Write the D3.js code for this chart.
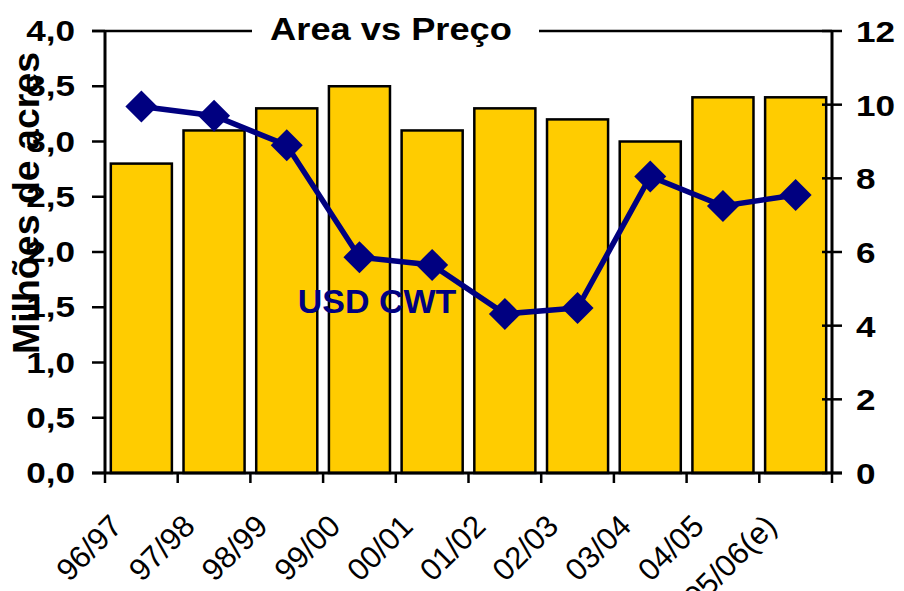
<!DOCTYPE html>
<html>
<head>
<meta charset="utf-8">
<script src="https://cdn.jsdelivr.net/npm/d3@7"></script>
<style>
  body { margin: 0; background: #fff; }
  svg text { font-family: "Liberation Sans", Arial, sans-serif; }
</style>
</head>
<body>
<div id="chart"></div>
<script>
// safra (season) labels, area in millions of acres, price in USD/CWT
let seasons = ["96/97", "97/98", "98/99", "99/00", "00/01", "01/02", "02/03", "03/04", "04/05", "05/06(e)"];
let area = [2.8, 3.1, 3.3, 3.5, 3.1, 3.3, 3.2, 3.0, 3.4, 3.4];
let price = [9.95, 9.7, 8.9, 5.86, 5.65, 4.32, 4.48, 8.05, 7.25, 7.55];
let leftTicks = [0, 0.5, 1, 1.5, 2, 2.5, 3, 3.5, 4];
let rightTicks = [0, 2, 4, 6, 8, 10, 12];

let width = 904;
let height = 591;
let m = { left: 105, right: 72, top: 31, bottom: 118 };

let svg = d3.select("#chart").append("svg")
  .attr("width", width)
  .attr("height", height);

let x = d3.scaleBand()
  .domain(seasons)
  .range([m.left, width - m.right])
  .paddingInner(0.16)
  .paddingOuter(0.08);

let yL = d3.scaleLinear().domain([0, 4]).range([height - m.bottom, m.top]);
let yR = d3.scaleLinear().domain([0, 12]).range([height - m.bottom, m.top]);

let fmt = d3.format(".1f");
let stretch = 1.17;

// bars
svg.selectAll("rect.bar")
  .data(seasons)
  .enter()
  .append("rect")
  .attr("class", "bar")
  .attr("x", d => x(d))
  .attr("y", (d, i) => yL(area[i]))
  .attr("width", x.bandwidth())
  .attr("height", (d, i) => yL(0) - yL(area[i]))
  .attr("fill", "#FFCC00")
  .attr("stroke", "#000")
  .attr("stroke-width", 2.5);

// left axis
let xl = m.left, xr = width - m.right;
let y0 = yL(0);
svg.append("line")
  .attr("x1", xl).attr("x2", xl)
  .attr("y1", yL(4)).attr("y2", y0)
  .attr("stroke", "#000").attr("stroke-width", 3);

svg.selectAll("line.lt")
  .data(leftTicks)
  .enter()
  .append("line")
  .attr("x1", xl - 13).attr("x2", xl)
  .attr("y1", d => yL(d)).attr("y2", d => yL(d))
  .attr("stroke", "#000").attr("stroke-width", 2.5);

svg.selectAll("text.lt")
  .data(leftTicks)
  .enter()
  .append("text")
  .attr("transform", d => `translate(75,${yL(d) + 10}) scale(${stretch},1)`)
  .attr("text-anchor", "end")
  .attr("font-size", 30)
  .attr("font-weight", "bold")
  .text(d => fmt(d).replace(".", ","));

// right axis
svg.append("line")
  .attr("x1", xr).attr("x2", xr)
  .attr("y1", yR(12)).attr("y2", y0)
  .attr("stroke", "#000").attr("stroke-width", 3);

svg.selectAll("line.rt")
  .data(rightTicks)
  .enter()
  .append("line")
  .attr("x1", xr - 10).attr("x2", xr + 10)
  .attr("y1", d => yR(d)).attr("y2", d => yR(d))
  .attr("stroke", "#000").attr("stroke-width", 2.5);

svg.selectAll("text.rt")
  .data(rightTicks)
  .enter()
  .append("text")
  .attr("transform", d => `translate(856,${yR(d) + 11}) scale(${stretch},1)`)
  .attr("font-size", 30)
  .attr("font-weight", "bold")
  .text(d => d);

// top border
svg.append("line")
  .attr("x1", xl - 13).attr("x2", xr)
  .attr("y1", yL(4)).attr("y2", yL(4))
  .attr("stroke", "#000").attr("stroke-width", 2.5);

// bottom axis
svg.append("line")
  .attr("x1", xl - 13).attr("x2", xr + 10)
  .attr("y1", y0).attr("y2", y0)
  .attr("stroke", "#000").attr("stroke-width", 3);

let bounds = d3.range(seasons.length + 1).map(i => m.left + x.step() * i);
svg.selectAll("line.xt")
  .data(bounds)
  .enter()
  .append("line")
  .attr("x1", d => d).attr("x2", d => d)
  .attr("y1", y0).attr("y2", y0 + 10)
  .attr("stroke", "#000").attr("stroke-width", 2.5);

svg.selectAll("text.xt")
  .data(seasons)
  .enter()
  .append("text")
  .attr("transform", (d, i) => `translate(${bounds[i] + 19},${y0 + 55}) rotate(-45)`)
  .attr("text-anchor", "end")
  .attr("font-size", 31)
  .text(d => d);

// price line
let line = d3.line()
  .x((d, i) => x(seasons[i]) + x.bandwidth() / 2)
  .y(d => yR(d));

svg.append("path")
  .datum(price)
  .attr("d", line)
  .attr("fill", "none")
  .attr("stroke", "#000080")
  .attr("stroke-width", 5.5);

svg.selectAll("path.mk")
  .data(price)
  .enter()
  .append("path")
  .attr("d", "M0,-16L16,0L0,16L-16,0Z")
  .attr("transform", (d, i) => `translate(${x(seasons[i]) + x.bandwidth() / 2},${yR(d)})`)
  .attr("fill", "#000080");

svg.append("text")
  .attr("transform", "translate(377,313) scale(1.03,1)")
  .attr("text-anchor", "middle")
  .attr("font-size", 33)
  .attr("font-weight", "bold")
  .attr("fill", "#000080")
  .text("USD CWT");

// title
svg.append("rect")
  .attr("x", 252).attr("y", 5)
  .attr("width", 287).attr("height", 44)
  .attr("fill", "#fff");

svg.append("text")
  .attr("transform", `translate(391,40) scale(${stretch},1)`)
  .attr("text-anchor", "middle")
  .attr("font-size", 31)
  .attr("font-weight", "bold")
  .text("Area vs Preço");

// y axis title
svg.append("text")
  .attr("transform", "translate(39,203) rotate(-90)")
  .attr("text-anchor", "middle")
  .attr("font-size", 37.5)
  .attr("font-weight", "bold")
  .text("Milhões de acres");
</script>
</body>
</html>
